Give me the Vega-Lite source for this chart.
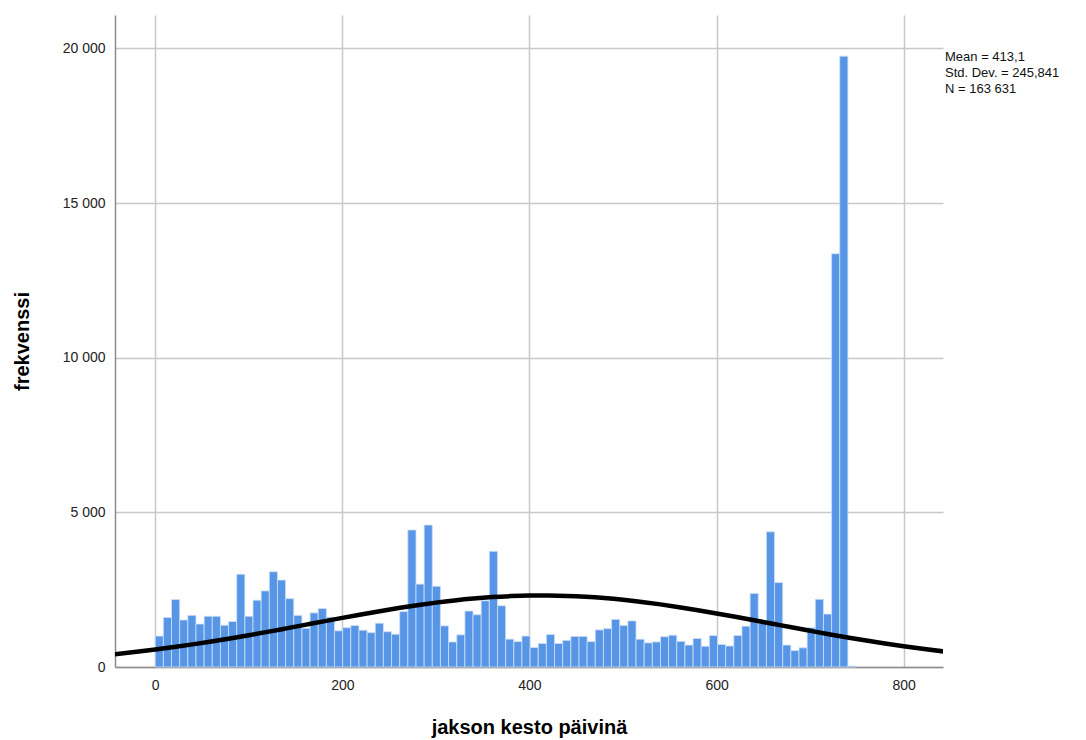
{
  "$schema": "https://vega.github.io/schema/vega-lite/v6.json",
  "width": 828,
  "height": 652,
  "autosize": {"type": "none"},
  "padding": {"left": 115, "top": 15, "right": 143, "bottom": 73},
  "config": {
    "locale": {"number": {"decimal": ",", "thousands": " ", "grouping": [3], "currency": ["", ""]}},
    "view": {"stroke": null},
    "font": "Liberation Sans"
  },
  "datasets": {
    "bins": [
      {"lo": 0, "hi": 8.71, "n": 1000}, {"lo": 8.71, "hi": 17.42, "n": 1600}, {"lo": 17.42, "hi": 26.13, "n": 2180},
      {"lo": 26.13, "hi": 34.84, "n": 1520}, {"lo": 34.84, "hi": 43.55, "n": 1670}, {"lo": 43.55, "hi": 52.26, "n": 1390},
      {"lo": 52.26, "hi": 60.97, "n": 1640}, {"lo": 60.97, "hi": 69.68, "n": 1640}, {"lo": 69.68, "hi": 78.39, "n": 1350},
      {"lo": 78.39, "hi": 87.1, "n": 1470}, {"lo": 87.1, "hi": 95.81, "n": 3000}, {"lo": 95.81, "hi": 104.52, "n": 1640},
      {"lo": 104.52, "hi": 113.23, "n": 2160}, {"lo": 113.23, "hi": 121.94, "n": 2460}, {"lo": 121.94, "hi": 130.65, "n": 3080},
      {"lo": 130.65, "hi": 139.36, "n": 2810}, {"lo": 139.36, "hi": 148.07, "n": 2210}, {"lo": 148.07, "hi": 156.78, "n": 1670},
      {"lo": 156.78, "hi": 165.49, "n": 1250}, {"lo": 165.49, "hi": 174.2, "n": 1750}, {"lo": 174.2, "hi": 182.91, "n": 1890},
      {"lo": 182.91, "hi": 191.62, "n": 1610}, {"lo": 191.62, "hi": 200.33, "n": 1170}, {"lo": 200.33, "hi": 209.04, "n": 1270},
      {"lo": 209.04, "hi": 217.75, "n": 1340}, {"lo": 217.75, "hi": 226.46, "n": 1190}, {"lo": 226.46, "hi": 235.17, "n": 1110},
      {"lo": 235.17, "hi": 243.88, "n": 1415}, {"lo": 243.88, "hi": 252.59, "n": 1140}, {"lo": 252.59, "hi": 261.3, "n": 1060},
      {"lo": 261.3, "hi": 270.01, "n": 1790}, {"lo": 270.01, "hi": 278.72, "n": 4430}, {"lo": 278.72, "hi": 287.43, "n": 2680},
      {"lo": 287.43, "hi": 296.14, "n": 4590}, {"lo": 296.14, "hi": 304.85, "n": 2610}, {"lo": 304.85, "hi": 313.56, "n": 1330},
      {"lo": 313.56, "hi": 322.27, "n": 810}, {"lo": 322.27, "hi": 330.98, "n": 1040}, {"lo": 330.98, "hi": 339.69, "n": 1810},
      {"lo": 339.69, "hi": 348.4, "n": 1690}, {"lo": 348.4, "hi": 357.11, "n": 2140}, {"lo": 357.11, "hi": 365.82, "n": 3740},
      {"lo": 365.82, "hi": 374.53, "n": 1980}, {"lo": 374.53, "hi": 383.24, "n": 900}, {"lo": 383.24, "hi": 391.95, "n": 820},
      {"lo": 391.95, "hi": 400.66, "n": 1000}, {"lo": 400.66, "hi": 409.37, "n": 630}, {"lo": 409.37, "hi": 418.08, "n": 760},
      {"lo": 418.08, "hi": 426.79, "n": 1050}, {"lo": 426.79, "hi": 435.5, "n": 760}, {"lo": 435.5, "hi": 444.21, "n": 860},
      {"lo": 444.21, "hi": 452.92, "n": 990}, {"lo": 452.92, "hi": 461.63, "n": 990}, {"lo": 461.63, "hi": 470.34, "n": 820},
      {"lo": 470.34, "hi": 479.05, "n": 1200}, {"lo": 479.05, "hi": 487.76, "n": 1240}, {"lo": 487.76, "hi": 496.47, "n": 1540},
      {"lo": 496.47, "hi": 505.18, "n": 1340}, {"lo": 505.18, "hi": 513.89, "n": 1490}, {"lo": 513.89, "hi": 522.6, "n": 900},
      {"lo": 522.6, "hi": 531.31, "n": 780}, {"lo": 531.31, "hi": 540.02, "n": 810}, {"lo": 540.02, "hi": 548.73, "n": 980},
      {"lo": 548.73, "hi": 557.44, "n": 1030}, {"lo": 557.44, "hi": 566.15, "n": 830}, {"lo": 566.15, "hi": 574.86, "n": 710},
      {"lo": 574.86, "hi": 583.57, "n": 920}, {"lo": 583.57, "hi": 592.28, "n": 670}, {"lo": 592.28, "hi": 600.99, "n": 1015},
      {"lo": 600.99, "hi": 609.7, "n": 730}, {"lo": 609.7, "hi": 618.41, "n": 680}, {"lo": 618.41, "hi": 627.12, "n": 1015},
      {"lo": 627.12, "hi": 635.83, "n": 1320}, {"lo": 635.83, "hi": 644.54, "n": 2380}, {"lo": 644.54, "hi": 653.25, "n": 1420},
      {"lo": 653.25, "hi": 661.96, "n": 4370}, {"lo": 661.96, "hi": 670.67, "n": 2730}, {"lo": 670.67, "hi": 679.38, "n": 710},
      {"lo": 679.38, "hi": 688.09, "n": 530}, {"lo": 688.09, "hi": 696.8, "n": 620}, {"lo": 696.8, "hi": 705.51, "n": 1270},
      {"lo": 705.51, "hi": 714.22, "n": 2190}, {"lo": 714.22, "hi": 722.93, "n": 1710}, {"lo": 722.93, "hi": 731.64, "n": 13360},
      {"lo": 731.64, "hi": 740.35, "n": 19750}, {"lo": 740.35, "hi": 749.06, "n": 30}
    ],
    "curve": [
      {"x": -45, "y": 406}, {"x": -20, "y": 490}, {"x": 0, "y": 564}, {"x": 20, "y": 644}, {"x": 40, "y": 731},
      {"x": 60, "y": 825}, {"x": 80, "y": 924}, {"x": 100, "y": 1028}, {"x": 120, "y": 1136}, {"x": 140, "y": 1248},
      {"x": 160, "y": 1361}, {"x": 180, "y": 1476}, {"x": 200, "y": 1589}, {"x": 220, "y": 1699}, {"x": 240, "y": 1805},
      {"x": 260, "y": 1905}, {"x": 280, "y": 1998}, {"x": 300, "y": 2081}, {"x": 320, "y": 2153}, {"x": 340, "y": 2213},
      {"x": 360, "y": 2260}, {"x": 380, "y": 2292}, {"x": 400, "y": 2310}, {"x": 413.1, "y": 2313}, {"x": 420, "y": 2312},
      {"x": 440, "y": 2299}, {"x": 460, "y": 2271}, {"x": 480, "y": 2229}, {"x": 500, "y": 2173}, {"x": 520, "y": 2104},
      {"x": 540, "y": 2025}, {"x": 560, "y": 1935}, {"x": 580, "y": 1837}, {"x": 600, "y": 1732}, {"x": 620, "y": 1623},
      {"x": 640, "y": 1511}, {"x": 660, "y": 1397}, {"x": 680, "y": 1283}, {"x": 700, "y": 1171}, {"x": 720, "y": 1061},
      {"x": 740, "y": 956}, {"x": 760, "y": 855}, {"x": 780, "y": 760}, {"x": 800, "y": 671}, {"x": 820, "y": 588},
      {"x": 845, "y": 494}
    ]
  },
  "layer": [
    {
      "data": {"name": "bins"},
      "mark": {"type": "rect", "color": "#5795e6", "stroke": "#cfe0f6", "strokeWidth": 0.8},
      "encoding": {
        "x": {
          "field": "lo", "type": "quantitative",
          "scale": {"domain": [-43, 842], "nice": false, "zero": false},
          "axis": {
            "title": "jakson kesto päivinä", "values": [0, 200, 400, 600, 800],
            "grid": true, "gridColor": "#c8c8c8", "gridWidth": 1.5,
            "domain": true, "domainColor": "#8c8c8c", "domainWidth": 1.5,
            "ticks": false, "labelPadding": 11, "labelFontSize": 14, "labelColor": "#222222",
            "titleFontSize": 20, "titleFontWeight": "bold", "titleColor": "#000000", "titlePadding": 25
          }
        },
        "x2": {"field": "hi"},
        "y": {
          "field": "n", "type": "quantitative",
          "scale": {"domain": [0, 21080], "nice": false},
          "axis": {
            "title": "frekvenssi", "values": [0, 5000, 10000, 15000, 20000],
            "grid": true, "gridColor": "#c8c8c8", "gridWidth": 1.5,
            "domain": true, "domainColor": "#8c8c8c", "domainWidth": 1.5,
            "ticks": false, "labelPadding": 10, "labelFontSize": 14, "labelColor": "#222222",
            "titleFontSize": 20, "titleFontWeight": "bold", "titleColor": "#000000", "titlePadding": 30
          }
        },
        "y2": {"datum": 0}
      }
    },
    {
      "data": {"name": "curve"},
      "mark": {"type": "line", "color": "#000000", "strokeWidth": 4.5, "clip": true, "interpolate": "monotone"},
      "encoding": {
        "x": {"field": "x", "type": "quantitative", "title": "jakson kesto päivinä"},
        "y": {"field": "y", "type": "quantitative", "title": "frekvenssi"}
      }
    },
    {
      "data": {"values": [{"lines": ["Mean = 413,1", "Std. Dev. = 245,841", "N = 163 631"]}]},
      "mark": {"type": "text", "align": "left", "baseline": "top", "fontSize": 13, "lineHeight": 16, "color": "#111111", "dx": 2, "dy": 3},
      "encoding": {
        "x": {"datum": 842, "type": "quantitative", "title": "jakson kesto päivinä"},
        "y": {"datum": 20000, "type": "quantitative", "title": "frekvenssi"},
        "text": {"field": "lines"}
      }
    }
  ]
}
